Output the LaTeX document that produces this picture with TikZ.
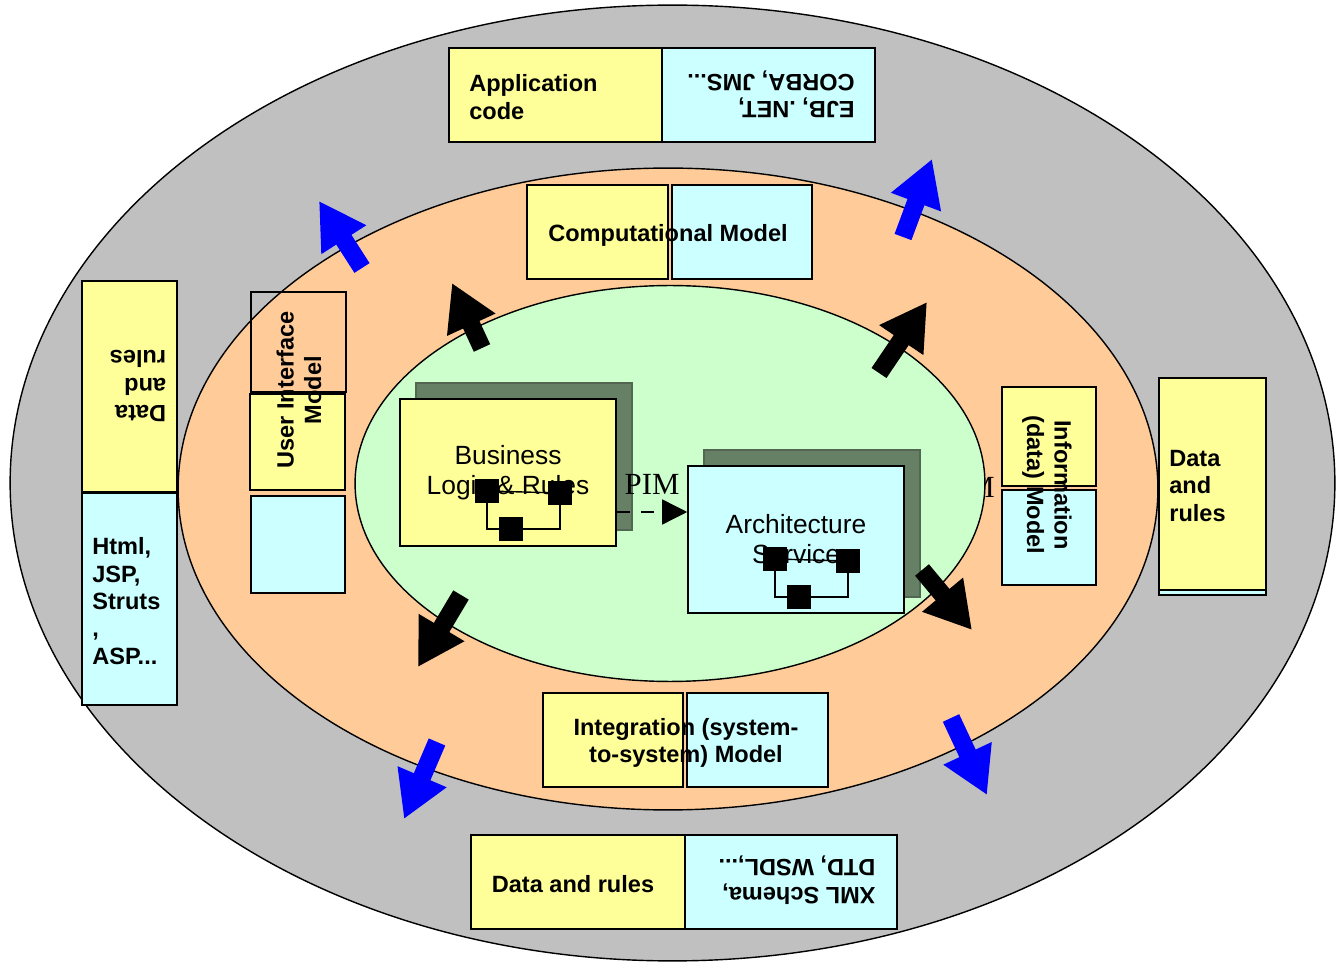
\documentclass[tikz,border=0pt]{standalone}
\usepackage{fontspec}
\setmainfont{Liberation Sans}
\newfontfamily\serifpim{Liberation Serif}
\usepackage{tikz}
\usetikzlibrary{arrows.meta}
\definecolor{outergray}{HTML}{C0C0C0}
\definecolor{peach}{HTML}{FFCC99}
\definecolor{mint}{HTML}{CCFFCC}
\definecolor{paleyellow}{HTML}{FFFF99}
\definecolor{palecyan}{HTML}{CCFFFF}
\definecolor{shadowgreen}{HTML}{668066}
\begin{document}
\begin{tikzpicture}[x=0.02cm,y=-0.02cm,
ybox/.style={draw,fill=paleyellow,line width=0.9pt},
cbox/.style={draw,fill=palecyan,line width=0.9pt},
lbl/.style={inner sep=0pt,font=\fontsize{13.4}{15.6}\selectfont\bfseries},
bodytext/.style={inner sep=0pt,font=\fontsize{15}{17}\selectfont},
comp/.style={fill=black,minimum size=0.48cm,inner sep=0pt},
shadowbox/.style={fill=shadowgreen,draw=shadowgreen!80!black,line width=0.6pt},
blockarrow/.style={line width=0.36cm,-{Triangle[length=0.92cm,width=1cm]}}]
\useasboundingbox (0,0) rectangle (1339,962);
\begin{scope}
\clip (0,0) rectangle (1339,962);
\draw[fill=outergray,line width=0.8pt] (672.5,483) ellipse [x radius=13.25cm,y radius=9.56cm];
\end{scope}
\draw[fill=peach,line width=0.8pt] (668,489) ellipse [x radius=9.8cm,y radius=6.42cm];
\node(psm)[anchor=east,inner sep=0pt,font=\serifpim\fontsize{17.5}{20}\selectfont] at (995,487){PSM};
\draw[fill=mint,line width=0.8pt] (670,483.5) ellipse [x radius=6.3cm,y radius=3.96cm];
\draw[ybox] (449,48) rectangle (662,142);
\draw[cbox] (662,48) rectangle (875,142);
\node(appcode)[lbl,anchor=west,align=left] at (469,97){Application\\code};
\node(ejbnet)[lbl,rotate=180,align=left] at (771,94){EJB, .NET,\\CORBA, JMS...};
\draw[ybox] (527,185) rectangle (668,279);
\draw[cbox] (672,185) rectangle (812,279);
\node(compmodel)[lbl] at (668,235){Computational Model};
\draw[ybox] (543,693) rectangle (683,787);
\draw[cbox] (687,693) rectangle (828,787);
\node(intmodel)[lbl,align=center] at (686,743){Integration (system-\\to-system) Model};
\draw[ybox] (471,835) rectangle (685,929);
\draw[cbox] (685,835) rectangle (897,929);
\node(datarules)[lbl] at (573,884){Data and rules};
\node(xmlschema)[lbl,rotate=180,align=left] at (797,880){XML Schema,\\DTD, WSDL,...};
\draw[ybox] (82,281) rectangle (177,492);
\draw[cbox] (82,493) rectangle (177,705);
\node(leftrules)[lbl,rotate=180,align=left] at (138,386){Data\\and\\rules};
\node(htmljsp)[lbl,anchor=west,align=left] at (92,601){Html,\\JSP,\\Struts\\,\\ASP...};
\draw[line width=0.9pt] (251,292) rectangle (346,392);
\draw[ybox] (250,394) rectangle (345,490);
\draw[cbox] (251,496) rectangle (345,593);
\node(uimodel)[lbl,rotate=90,align=center] at (299,390){User Interface\\Model};
\draw[ybox] (1002,387) rectangle (1096,486);
\draw[cbox] (1002,490) rectangle (1096,585);
\node(infomodel)[lbl,rotate=-90,align=center] at (1047,485){Information\\(data) Model};
\draw[cbox] (1159,586) rectangle (1266,595);
\draw[ybox] (1159,378) rectangle (1266,590);
\node(rightrules)[lbl,anchor=west,align=left] at (1169,486){Data\\and\\rules};
\draw[shadowbox] (416,383) rectangle (632,530);
\node(blr)[ybox,bodytext,minimum width=4.32cm,minimum height=2.94cm,align=center] at (508,472.5){Business\\Logic \& Rules};
\node(bl1)[comp] at (487,491){};
\node(bl2)[comp] at (560,493){};
\node(bl3)[comp] at (511,529){};
\draw[line width=0.8pt] (bl1.center) -- (bl2.center);
\draw[line width=0.8pt] (bl1.center) |- (bl3.center) -| (bl2.center);
\draw[shadowbox] (704,450) rectangle (920,597);
\node(arch)[cbox,bodytext,minimum width=4.32cm,minimum height=2.94cm,align=center] at (796,539.5){Architecture\\Service};
\node(ar1)[comp] at (775,559){};
\node(ar2)[comp] at (848,561){};
\node(ar3)[comp] at (799,597){};
\draw[line width=0.8pt] (ar1.center) -- (ar2.center);
\draw[line width=0.8pt] (ar1.center) |- (ar3.center) -| (ar2.center);
\node(pim)[inner sep=0pt,font=\serifpim\fontsize{17.5}{20}\selectfont] at (652,484){PIM};
\draw[line width=0.8pt,dash pattern=on 0.26cm off 0.22cm,-{Triangle[length=0.5cm,width=0.5cm]}] (blr.east |- 0,512) -- (arch.west |- 0,512);
\draw[blockarrow] (482,348) -- (452,283);
\draw[blockarrow] (879,373) -- (927,302);
\draw[blockarrow] (461,595) -- (418,667);
\draw[blockarrow] (922,570) -- (972,630);
\draw[blockarrow,blue] (362,268) -- (319,201);
\draw[blockarrow,blue] (903,237) -- (932,159);
\draw[blockarrow,blue] (437,742) -- (404,819);
\draw[blockarrow,blue] (951,718) -- (987,795);
\end{tikzpicture}
\end{document}
